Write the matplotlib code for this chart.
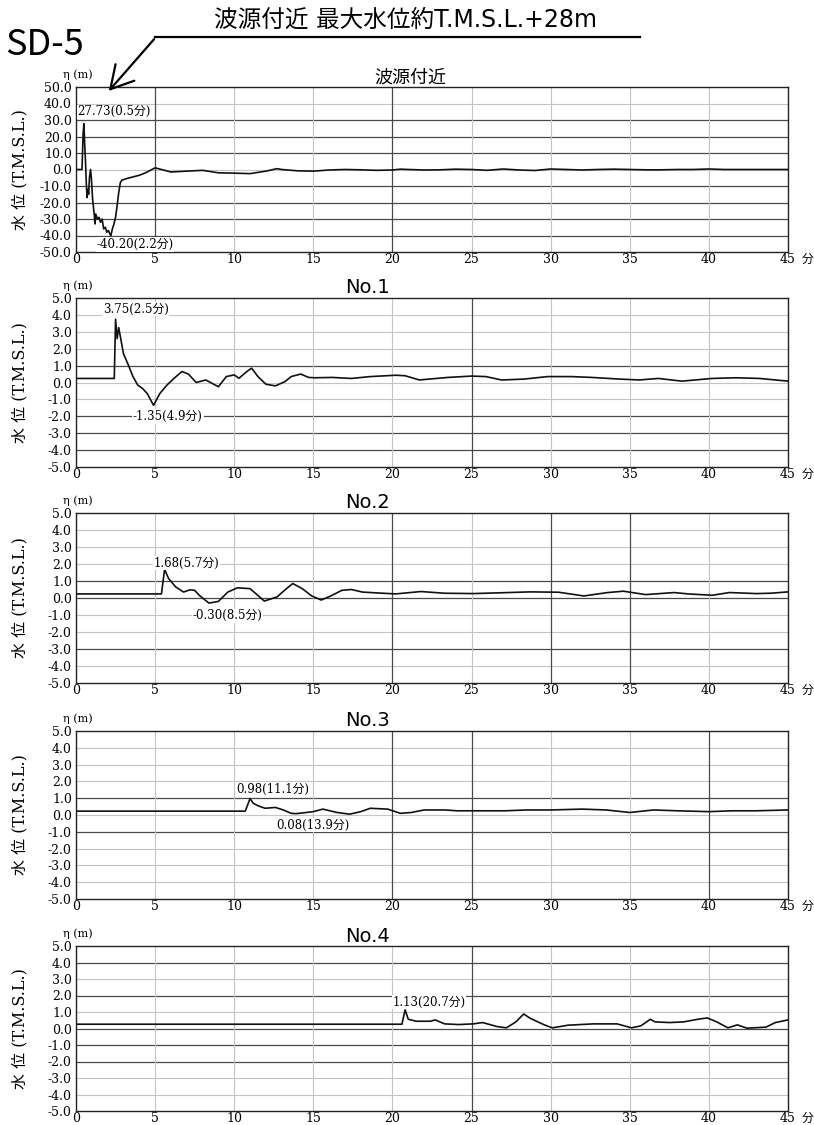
import matplotlib
matplotlib.use('Agg')
import matplotlib.pyplot as plt
from matplotlib.lines import Line2D
from matplotlib.patches import FancyArrowPatch

plt.rcParams['axes.unicode_minus'] = False

JP = ['Noto Sans CJK JP']
SANS = ['DejaVu Sans', 'Noto Sans CJK JP']
SERIF = ['DejaVu Serif', 'Noto Sans CJK JP']

# ---- data (time in minutes, water level in m) ----
sd5_t = [0, 0.38, 0.45, 0.5, 0.55, 0.6, 0.65, 0.7, 0.75, 0.8, 0.85, 0.92, 0.97,
         1.05, 1.15, 1.2, 1.25, 1.35, 1.45, 1.55, 1.65, 1.75, 1.85, 1.95, 2.05,
         2.2, 2.3, 2.4, 2.5, 2.6, 2.7, 2.8, 2.9, 3.2, 3.6, 4.0, 4.4, 4.7, 5.0,
         6, 7, 8, 9, 10, 11, 12, 12.7, 13, 14, 15, 16, 17, 18, 19, 20, 20.5, 21,
         22, 23, 24, 25, 26, 27, 28, 29, 30, 31, 32, 33, 34, 35, 36, 37, 38, 39,
         40, 41, 42, 43, 44, 45]
sd5_h = [0, 0, 22, 27.73, 15, 5, -8, -17, -12, -15, -5, 0, -5,
         -18, -27, -33, -27, -30, -29, -32, -30, -36, -35, -38, -37,
         -40.2, -36, -33, -29, -22, -14, -8, -6.5, -5.5, -4.5, -3.5, -2, -0.5, 1.0,
         -1.5, -1.0, -0.5, -2, -2.2, -2.5, -1, 0.5, 0, -0.8, -1, -0.3, 0, -0.2, -0.5, -0.3, 0.2, 0,
         -0.3, -0.2, 0.2, 0, -0.5, 0.3, -0.3, -0.6, 0.3, 0, -0.3, 0, 0.2, 0, -0.2, -0.2, 0, 0,
         0.3, 0, 0, 0, 0, 0]

no1_t = [0, 2.42, 2.5, 2.6, 2.7, 3.0, 3.3, 3.6, 3.9, 4.2, 4.5, 4.9, 5.3, 5.75,
         6.2, 6.7, 7.1, 7.6, 8.2, 8.5, 9.0, 9.5, 10.0, 10.3, 10.8, 11.1, 11.5,
         12.0, 12.6, 13.2, 13.6, 14.2, 14.7, 15.1, 16.2, 17.4, 18.6, 20.2, 20.8,
         21.7, 23.5, 25.0, 25.9, 26.9, 28.3, 29.8, 31.3, 32.6, 34.4, 35.6, 36.8,
         38.3, 40.2, 41.7, 43.2, 45]
no1_h = [0.24, 0.24, 3.75, 2.6, 3.25, 1.7, 1.05, 0.35, -0.15, -0.35, -0.65, -1.35, -0.65, -0.15,
         0.25, 0.65, 0.5, 0.0, 0.15, 0.0, -0.25, 0.35, 0.45, 0.25, 0.65, 0.85, 0.35,
         -0.1, -0.2, 0.05, 0.35, 0.5, 0.3, 0.28, 0.3, 0.24, 0.35, 0.43, 0.4,
         0.15, 0.3, 0.38, 0.35, 0.15, 0.2, 0.35, 0.35, 0.3, 0.2, 0.15, 0.24,
         0.08, 0.24, 0.28, 0.24, 0.08]

no2_t = [0, 5.4, 5.6, 5.85, 6.3, 6.8, 7.2, 7.5, 7.8, 8.4, 9.0, 9.6, 10.2, 11.0,
         11.5, 11.9, 12.7, 13.3, 13.7, 14.3, 14.9, 15.5, 16.1, 16.8, 17.4, 18.1,
         19.0, 20.2, 21.8, 23.3, 25.1, 26.6, 28.7, 30.5, 32.1, 33.6, 34.6, 36.0,
         37.8, 38.7, 40.2, 41.3, 43.0, 43.9, 45]
no2_h = [0.24, 0.24, 1.68, 1.15, 0.65, 0.35, 0.48, 0.45, 0.15, -0.3, -0.2, 0.35, 0.6, 0.55,
         0.15, -0.18, 0.06, 0.55, 0.85, 0.55, 0.12, -0.12, 0.12, 0.45, 0.5, 0.35,
         0.3, 0.24, 0.38, 0.28, 0.26, 0.3, 0.36, 0.34, 0.12, 0.32, 0.4, 0.2,
         0.32, 0.24, 0.16, 0.32, 0.26, 0.28, 0.36]

no3_t = [0, 10.7, 11.0, 11.2, 11.5, 11.95, 12.6, 13.1, 13.6, 13.9, 14.3, 15.0,
         15.6, 16.5, 17.3, 18.0, 18.6, 19.7, 20.5, 21.2, 22.0, 23.3, 24.1, 25.0,
         27.1, 28.5, 30.0, 32.0, 33.5, 35.0, 36.5, 38.0, 40.0, 41.5, 43.0, 45]
no3_h = [0.23, 0.23, 0.98, 0.7, 0.55, 0.4, 0.45, 0.3, 0.1, 0.08, 0.12, 0.2,
         0.35, 0.15, 0.05, 0.2, 0.4, 0.35, 0.1, 0.15, 0.3, 0.3, 0.25, 0.25,
         0.25, 0.3, 0.3, 0.35, 0.3, 0.15, 0.3, 0.25, 0.2, 0.25, 0.25, 0.3]

no4_t = [0, 20.6, 20.8, 21.0, 21.5, 22.4, 22.7, 23.3, 24.2, 25.1, 25.7, 26.6,
         27.2, 27.8, 28.3, 28.7, 29.6, 30.1, 31.1, 32.7, 34.2, 35.1, 35.7, 36.3,
         36.6, 37.5, 38.4, 39.3, 39.9, 40.5, 41.2, 41.8, 42.4, 43.6, 44.2, 45]
no4_h = [0.26, 0.26, 1.13, 0.56, 0.44, 0.44, 0.52, 0.28, 0.24, 0.28, 0.36, 0.12,
         0.04, 0.4, 0.88, 0.62, 0.22, 0.04, 0.2, 0.28, 0.28, 0.04, 0.16, 0.56,
         0.4, 0.36, 0.4, 0.56, 0.64, 0.4, 0.04, 0.22, 0.02, 0.08, 0.36, 0.52]

titles = ['波源付近', 'No.1', 'No.2', 'No.3', 'No.4']
series = [(sd5_t, sd5_h), (no1_t, no1_h), (no2_t, no2_h), (no3_t, no3_h), (no4_t, no4_h)]
limits = [50, 5, 5, 5, 5]
steps = [10, 1, 1, 1, 1]
xticks = list(range(0, 50, 5))

# (label, x, y) per panel
notes = [
    [('27.73(0.5分)', 0.1, 35), ('-40.20(2.2分)', 1.3, -45.5)],
    [('3.75(2.5分)', 1.7, 4.35), ('-1.35(4.9分)', 3.6, -2.0)],
    [('1.68(5.7分)', 4.9, 2.05), ('-0.30(8.5分)', 7.35, -1.05)],
    [('0.98(11.1分)', 10.1, 1.5), ('0.08(13.9分)', 12.65, -0.6)],
    [('1.13(20.7分)', 20.0, 1.6)],
]

# darker grid lines (the scan has a mix of dark and faint lines)
dark_h = [[30, -10, -20, -30, -40, 20, 10], [1, -2, -3, -4], [1, 0, -3], [1, -1], [4, 2, 0, -1, -2]]
dark_v = [[5, 20], [25], [20, 30, 35], [20, 25, 40], [25]]

W, H = 814, 1125
fig = plt.figure(figsize=(W / 100, H / 100), dpi=100)

tops = [87, 298, 513, 731, 946]
bots = [252, 467, 683, 899, 1111]
left, right = 76, 788
title_x = [0.469, 0.41, 0.41, 0.41, 0.41]

for i in range(5):
    ax = fig.add_axes([left / W, 1 - bots[i] / H, (right - left) / W, (bots[i] - tops[i]) / H])
    lim, st = limits[i], steps[i]
    yt = [k * st for k in range(-5, 6)]
    ax.set_xlim(0, 45)
    ax.set_ylim(-lim, lim)
    ax.set_xticks(xticks)
    ax.set_yticks(yt)
    ax.set_yticklabels(['%.1f' % v for v in yt], family=SERIF, fontsize=9)
    ax.set_xticklabels([str(v) for v in xticks], family=SERIF, fontsize=9)
    ax.tick_params(axis='y', length=0, pad=3)
    ax.tick_params(axis='x', length=0, pad=1)
    for v in yt[1:-1]:
        d = v in dark_h[i]
        ax.axhline(v, color='#4a4a4a' if d else '#c4c4c4', lw=0.9 if d else 0.8, zorder=1)
    for v in xticks[1:]:
        d = v in dark_v[i]
        ax.axvline(v, color='#4a4a4a' if d else '#c4c4c4', lw=0.9 if d else 0.8, zorder=1)
    for s in ax.spines.values():
        s.set_linewidth(1.0)
        s.set_color('#222222')
    t, h = series[i]
    ax.plot(t, h, color='#111111', lw=1.2, zorder=3)
    for txt, x, y in notes[i]:
        ax.text(x, y, txt, family=SERIF, fontsize=8.5, ha='left', va='center', zorder=4,
                bbox=dict(facecolor='white', edgecolor='none', pad=0.5))
    ax.text(title_x[i], 1.003, titles[i], transform=ax.transAxes, ha='center', va='bottom',
            family=SANS, fontsize=13 if i == 0 else 14)
    ax.annotate('η (m)', xy=(0, 1), xycoords='axes fraction', xytext=(1, 9),
                textcoords='offset points', ha='center', va='center', family=SERIF, fontsize=8)
    ax.annotate('分', xy=(1, 0), xycoords='axes fraction', xytext=(14, -5.5),
                textcoords='offset points', ha='center', va='center', family=JP, fontsize=8.5)
    fig.text(20 / W, 1 - (tops[i] + bots[i]) / 2 / H, '水 位 (T.M.S.L.)', rotation=90,
             ha='center', va='center', family=SERIF, fontsize=11.5)

# headline with leader line and arrow
fig.text(405 / W, 1 - 20 / H, '波源付近 最大水位約T.M.S.L.+28m', ha='center', va='center',
         family=SANS, fontsize=17)
fig.add_artist(Line2D([155 / W, 640 / W], [1 - 37 / H, 1 - 37 / H], color='black', lw=1.6,
                      transform=fig.transFigure))
fig.add_artist(FancyArrowPatch((156 / W, 1 - 37 / H), (107 / W, 1 - 93 / H),
                               transform=fig.transFigure, arrowstyle='->,head_length=0.8,head_width=0.45',
                               mutation_scale=20, lw=1.6, color='black'))
fig.text(5 / W, 1 - 45 / H, 'SD-5', ha='left', va='center', family=JP, fontsize=26)

fig.savefig('out.png', dpi=100, facecolor='white')
